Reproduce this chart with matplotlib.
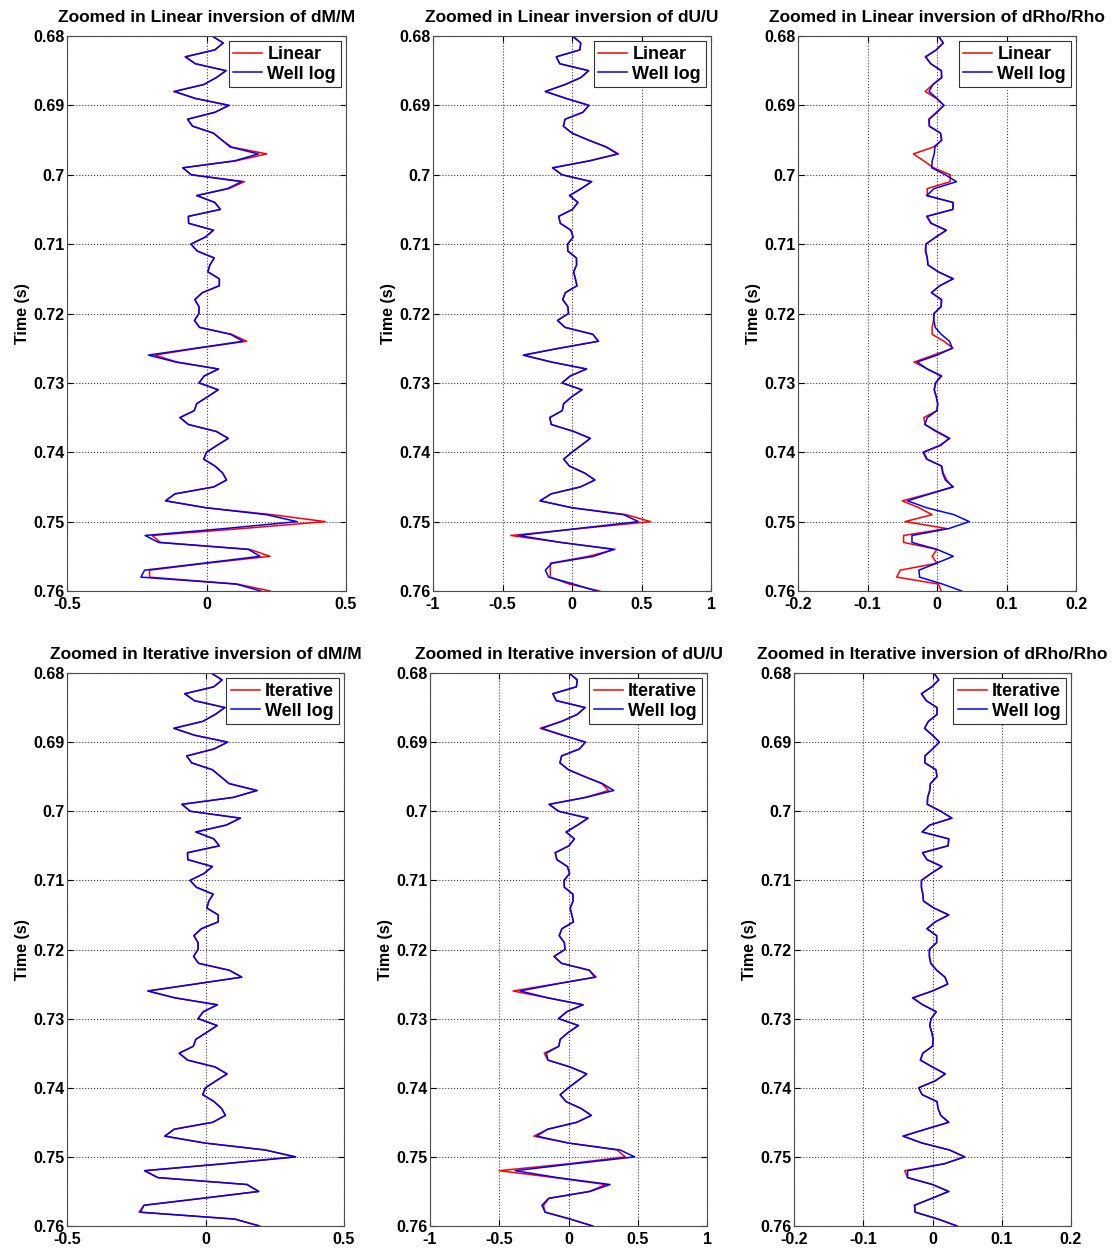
import numpy as np
import matplotlib
matplotlib.use("Agg")
import matplotlib.pyplot as plt
from matplotlib.ticker import FuncFormatter

plt.rcParams['font.family'] = ['Liberation Sans', 'DejaVu Sans']
plt.rcParams['font.weight'] = 'bold'

# sample times (1 ms sampling, 0.68 - 0.76 s)
time = np.linspace(0.68, 0.76, 81)

# well log reflectivities
well_dm = [0.02, 0.06, 0.03, -0.075, -0.04, 0.07, 0.035, -0.01, -0.114, -0.04,
           0.08, 0.03, -0.068, -0.05, 0.025, 0.055, 0.085, 0.186, 0.1, -0.085,
           -0.055, 0.126, 0.075, -0.035, 0.03, 0.05, -0.065, -0.064, 0.025, -0.005,
           -0.056, -0.033, 0.028, 0.012, 0.005, 0.046, 0.046, -0.015, -0.042, -0.027,
           -0.027, -0.043, -0.025, 0.086, 0.131, -0.038, -0.208, -0.11, 0.043, -0.008,
           -0.027, 0.042, 0.004, -0.035, -0.044, -0.095, -0.065, 0.035, 0.078, 0.038,
           0.0, -0.01, 0.031, 0.058, 0.072, 0.026, -0.113, -0.147, -0.002, 0.215,
           0.325, 0.065, -0.22, -0.172, 0.15, 0.192, -0.012, -0.222, -0.235, 0.106,
           0.195]
well_du = [0.003, 0.063, 0.057, -0.113, -0.088, 0.12, 0.063, -0.05, -0.192, -0.042,
           0.122, 0.078, -0.05, -0.062, 0.0, 0.118, 0.245, 0.327, 0.125, -0.14,
           -0.072, 0.141, 0.066, -0.018, 0.043, 0.003, -0.096, -0.084, -0.008, 0.008,
           -0.032, -0.03, 0.032, 0.033, 0.012, 0.024, 0.036, -0.048, -0.067, -0.03,
           -0.025, -0.104, -0.05, 0.15, 0.19, -0.09, -0.35, -0.147, 0.105, -0.012,
           -0.072, 0.072, -0.002, -0.06, -0.07, -0.16, -0.149, 0.012, 0.132, 0.066,
           0.0, -0.06, -0.018, 0.091, 0.165, 0.06, -0.15, -0.23, 0.0, 0.372,
           0.478, 0.037, -0.385, -0.08, 0.3, 0.156, -0.144, -0.192, -0.168, 0.012,
           0.175]
well_drho = [0.002, 0.009, -0.001, -0.016, -0.009, 0.0065, 0.0065, -0.006, -0.0115, 0.0,
             0.01, 0.0, -0.011, -0.011, 0.005, 0.0065, -0.003, -0.004, -0.007, -0.0075,
             0.012, 0.028, -0.004, -0.015, 0.0235, 0.0225, -0.0145, -0.008, 0.0137, -0.002,
             -0.016, -0.016, -0.014, -0.013, 0.002, 0.0235, 0.004, -0.008, 0.006, 0.006,
             -0.0045, -0.0045, -0.0025, 0.006, 0.018, 0.022, 0.0, -0.0285, -0.014, 0.0055,
             -0.002, -0.004, -0.001, 0.001, 0.0, -0.014, -0.0175, 0.0, 0.0185, 0.004,
             -0.02, -0.015, 0.0065, 0.008, 0.012, 0.0235, -0.01, -0.0425, -0.015, 0.0245,
             0.0465, 0.017, -0.036, -0.036, 0.0, 0.0235, -0.001, -0.026, -0.025, 0.008,
             0.0355]

# linear inversion results
lin_dm = [0.02, 0.06, 0.03, -0.077, -0.04, 0.07, 0.035, -0.01, -0.118, -0.04,
          0.082, 0.03, -0.068, -0.05, 0.025, 0.055, 0.09, 0.216, 0.105, -0.085,
          -0.055, 0.136, 0.08, -0.035, 0.03, 0.05, -0.065, -0.064, 0.025, -0.005,
          -0.056, -0.033, 0.028, 0.012, 0.005, 0.046, 0.046, -0.015, -0.042, -0.027,
          -0.027, -0.043, -0.025, 0.09, 0.144, -0.03, -0.186, -0.105, 0.043, -0.008,
          -0.027, 0.042, 0.004, -0.035, -0.044, -0.095, -0.065, 0.035, 0.078, 0.038,
          0.0, -0.01, 0.031, 0.058, 0.072, 0.026, -0.113, -0.147, -0.002, 0.235,
          0.426, 0.128, -0.195, -0.165, 0.155, 0.228, 0.0, -0.204, -0.204, 0.11,
          0.228]
lin_du = [0.003, 0.063, 0.057, -0.113, -0.088, 0.12, 0.063, -0.05, -0.192, -0.042,
          0.122, 0.078, -0.05, -0.062, 0.0, 0.118, 0.25, 0.335, 0.125, -0.14,
          -0.072, 0.141, 0.066, -0.018, 0.043, 0.003, -0.096, -0.084, -0.008, 0.008,
          -0.032, -0.03, 0.032, 0.033, 0.012, 0.024, 0.036, -0.048, -0.067, -0.03,
          -0.025, -0.104, -0.05, 0.15, 0.19, -0.09, -0.35, -0.147, 0.105, -0.012,
          -0.072, 0.072, -0.002, -0.06, -0.07, -0.16, -0.149, 0.012, 0.132, 0.066,
          0.0, -0.06, -0.018, 0.091, 0.165, 0.06, -0.15, -0.23, 0.0, 0.39,
          0.565, 0.06, -0.44, -0.08, 0.31, 0.12, -0.156, -0.156, -0.156, -0.02,
          0.2]
lin_drho = [0.002, 0.009, -0.001, -0.017, -0.009, 0.006, 0.007, -0.006, -0.017, -0.001,
            0.01, -0.001, -0.012, -0.011, 0.005, 0.007, -0.005, -0.034, -0.019, -0.005,
            0.019, 0.019, -0.014, -0.014, 0.023, 0.023, -0.015, -0.009, 0.013, -0.002,
            -0.016, -0.017, -0.014, -0.013, 0.002, 0.023, 0.004, -0.008, 0.007, 0.006,
            -0.004, -0.005, -0.007, -0.007, 0.01, 0.023, -0.005, -0.033, -0.014, 0.007,
            -0.002, -0.004, -0.001, 0.001, 0.0, -0.019, -0.017, -0.002, 0.017, 0.006,
            -0.019, -0.014, 0.007, 0.009, 0.014, 0.022, -0.012, -0.05, -0.026, -0.007,
            -0.046, 0.014, -0.048, -0.048, 0.0, -0.007, 0.0, -0.053, -0.058, 0.002,
            0.006]

# iterative inversion results
iter_dm = [0.02, 0.06, 0.03, -0.075, -0.04, 0.07, 0.035, -0.01, -0.114, -0.04,
           0.08, 0.03, -0.068, -0.05, 0.025, 0.055, 0.085, 0.186, 0.1, -0.085,
           -0.055, 0.126, 0.075, -0.035, 0.03, 0.05, -0.065, -0.064, 0.025, -0.005,
           -0.056, -0.033, 0.028, 0.012, 0.005, 0.046, 0.046, -0.015, -0.042, -0.027,
           -0.027, -0.043, -0.025, 0.086, 0.131, -0.038, -0.208, -0.11, 0.043, -0.008,
           -0.027, 0.042, 0.004, -0.035, -0.044, -0.095, -0.065, 0.035, 0.078, 0.038,
           0.0, -0.01, 0.031, 0.058, 0.072, 0.026, -0.113, -0.147, -0.002, 0.215,
           0.325, 0.065, -0.22, -0.172, 0.15, 0.192, -0.012, -0.222, -0.24, 0.106,
           0.195]
iter_du = [0.003, 0.063, 0.057, -0.113, -0.088, 0.12, 0.063, -0.05, -0.205, -0.042,
           0.122, 0.078, -0.05, -0.062, 0.0, 0.118, 0.24, 0.29, 0.12, -0.14,
           -0.072, 0.141, 0.066, -0.018, 0.043, 0.003, -0.096, -0.084, -0.008, 0.008,
           -0.032, -0.03, 0.032, 0.033, 0.012, 0.024, 0.036, -0.048, -0.067, -0.03,
           -0.025, -0.104, -0.05, 0.15, 0.2, -0.1, -0.4, -0.15, 0.105, -0.012,
           -0.072, 0.072, -0.002, -0.06, -0.07, -0.175, -0.149, 0.012, 0.132, 0.066,
           0.0, -0.06, -0.018, 0.091, 0.165, 0.06, -0.15, -0.25, 0.0, 0.35,
           0.41, 0.0, -0.5, -0.1, 0.27, 0.15, -0.14, -0.18, -0.17, 0.012,
           0.175]
iter_drho = [0.002, 0.009, -0.001, -0.016, -0.009, 0.0065, 0.0065, -0.006, -0.0115, 0.0,
             0.01, 0.0, -0.011, -0.011, 0.005, 0.0065, -0.003, -0.004, -0.007, -0.0075,
             0.012, 0.028, -0.004, -0.015, 0.0235, 0.0225, -0.0145, -0.008, 0.0137, -0.002,
             -0.016, -0.016, -0.014, -0.013, 0.002, 0.0235, 0.004, -0.008, 0.006, 0.006,
             -0.0045, -0.0045, -0.0025, 0.006, 0.018, 0.022, 0.0, -0.029, -0.014, 0.0055,
             -0.002, -0.004, -0.001, 0.001, 0.0, -0.014, -0.0175, 0.0, 0.0185, 0.004,
             -0.02, -0.015, 0.0065, 0.008, 0.012, 0.0235, -0.01, -0.0425, -0.015, 0.0245,
             0.0465, 0.017, -0.04, -0.036, 0.0, 0.0235, -0.001, -0.026, -0.025, 0.008,
             0.0355]

names = ['dM/M', 'dU/U', 'dRho/Rho']
xlims = [(-0.5, 0.5), (-1, 1), (-0.2, 0.2)]
xticks = [[-0.5, 0, 0.5], [-1, -0.5, 0, 0.5, 1], [-0.2, -0.1, 0, 0.1, 0.2]]
yticks = [0.68, 0.69, 0.70, 0.71, 0.72, 0.73, 0.74, 0.75, 0.76]

# axes boxes in pixels (left, top, width, height)
W, H = 1115.0, 1250.0
top_boxes = [(67, 36, 279, 555), (433, 36, 278, 555), (798, 36, 278, 555)]
bot_boxes = [(67, 673, 277, 553), (430, 673, 277, 553), (794, 673, 277, 553)]

rows = [
    ('Linear', [lin_dm, lin_du, lin_drho], top_boxes),
    ('Iterative', [iter_dm, iter_du, iter_drho], bot_boxes),
]
wells = [well_dm, well_du, well_drho]

fmt = FuncFormatter(lambda v, p: '%g' % round(v, 3))  # matlab style labels

fig = plt.figure(figsize=(W / 100, H / 100), dpi=100)
for label, inv_list, boxes in rows:
    for i in range(3):
        x0, y0, w, h = boxes[i]
        ax = fig.add_axes([x0 / W, 1 - (y0 + h) / H, w / W, h / H])
        ax.plot(inv_list[i], time, color='r', lw=1.1, label=label)
        ax.plot(wells[i], time, color='b', lw=1.1, label='Well log')
        ax.set_xlim(*xlims[i])
        ax.set_ylim(0.76, 0.68)
        ax.set_xticks(xticks[i])
        ax.set_yticks(yticks)
        ax.xaxis.set_major_formatter(fmt)
        ax.yaxis.set_major_formatter(fmt)
        ax.tick_params(direction='in', length=4, labelsize=11.5, top=True, right=True)
        ax.tick_params(axis='x', pad=4)
        ax.tick_params(axis='y', pad=2)
        for t in ax.get_xticklabels() + ax.get_yticklabels():
            t.set_fontweight('bold')
        ax.grid(True, linestyle=':', color='0.25', lw=0.8)
        for s in ax.spines.values():
            s.set_color('0.3')
            s.set_linewidth(0.8)
        ax.set_ylabel('Time (s)', fontsize=11.5, fontweight='bold', labelpad=2)
        ax.set_title('Zoomed in %s inversion of %s' % (label, names[i]),
                     fontsize=12.5, fontweight='bold', pad=10)
        leg = ax.legend(loc='upper right', fontsize=13, fancybox=False,
                        edgecolor='0.2', framealpha=1, borderpad=0.25,
                        labelspacing=0.15, handlelength=1.6, handletextpad=0.3,
                        borderaxespad=0.3)
        leg.get_frame().set_linewidth(0.8)
        for t in leg.get_texts():
            t.set_fontweight('bold')

fig.savefig('out.png', dpi=100)
